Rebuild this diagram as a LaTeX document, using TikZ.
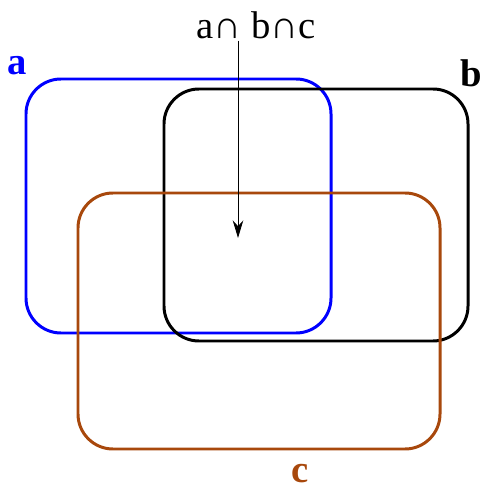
\documentclass[tikz,border=0pt]{standalone}
\usepackage{fontspec}
\setmainfont{Liberation Serif}
\usepackage{tikz}
\usetikzlibrary{arrows.meta}
\definecolor{setbrown}{RGB}{168,72,12}
\tikzstyle{setbox} = [line width=1.7pt, rounded corners=0.7cm]
\tikzstyle{setlabel} = [font=\fontsize{22}{24}\selectfont\bfseries]
\tikzstyle{arrow} = [-{Stealth[length=10pt,width=6pt]}, line width=0.5pt]

\begin{document}
\begin{tikzpicture}[x=0.02cm, y=-0.02cm]
  \useasboundingbox (0,0) rectangle (482,492);

  \draw [setbox, blue] (26,79) rectangle (331,333);
  \draw [setbox, black] (164,89) rectangle (468,341);
  \draw [setbox, setbrown] (78,193) rectangle (440,449);

  \node (la) [setlabel, blue] at (17,66) {a};
  \node (lb) [setlabel, black] at (471,73) {b};
  \node (lc) [setlabel, setbrown] at (300,474) {c};

  \node (inter) [font=\fontsize{22}{24}\selectfont, inner sep=1pt] at (256,25) {a∩ b∩c};
  \coordinate (mid) at (238,238);

  \draw [arrow] (inter.south -| mid) -- (mid);

\end{tikzpicture}
\end{document}
